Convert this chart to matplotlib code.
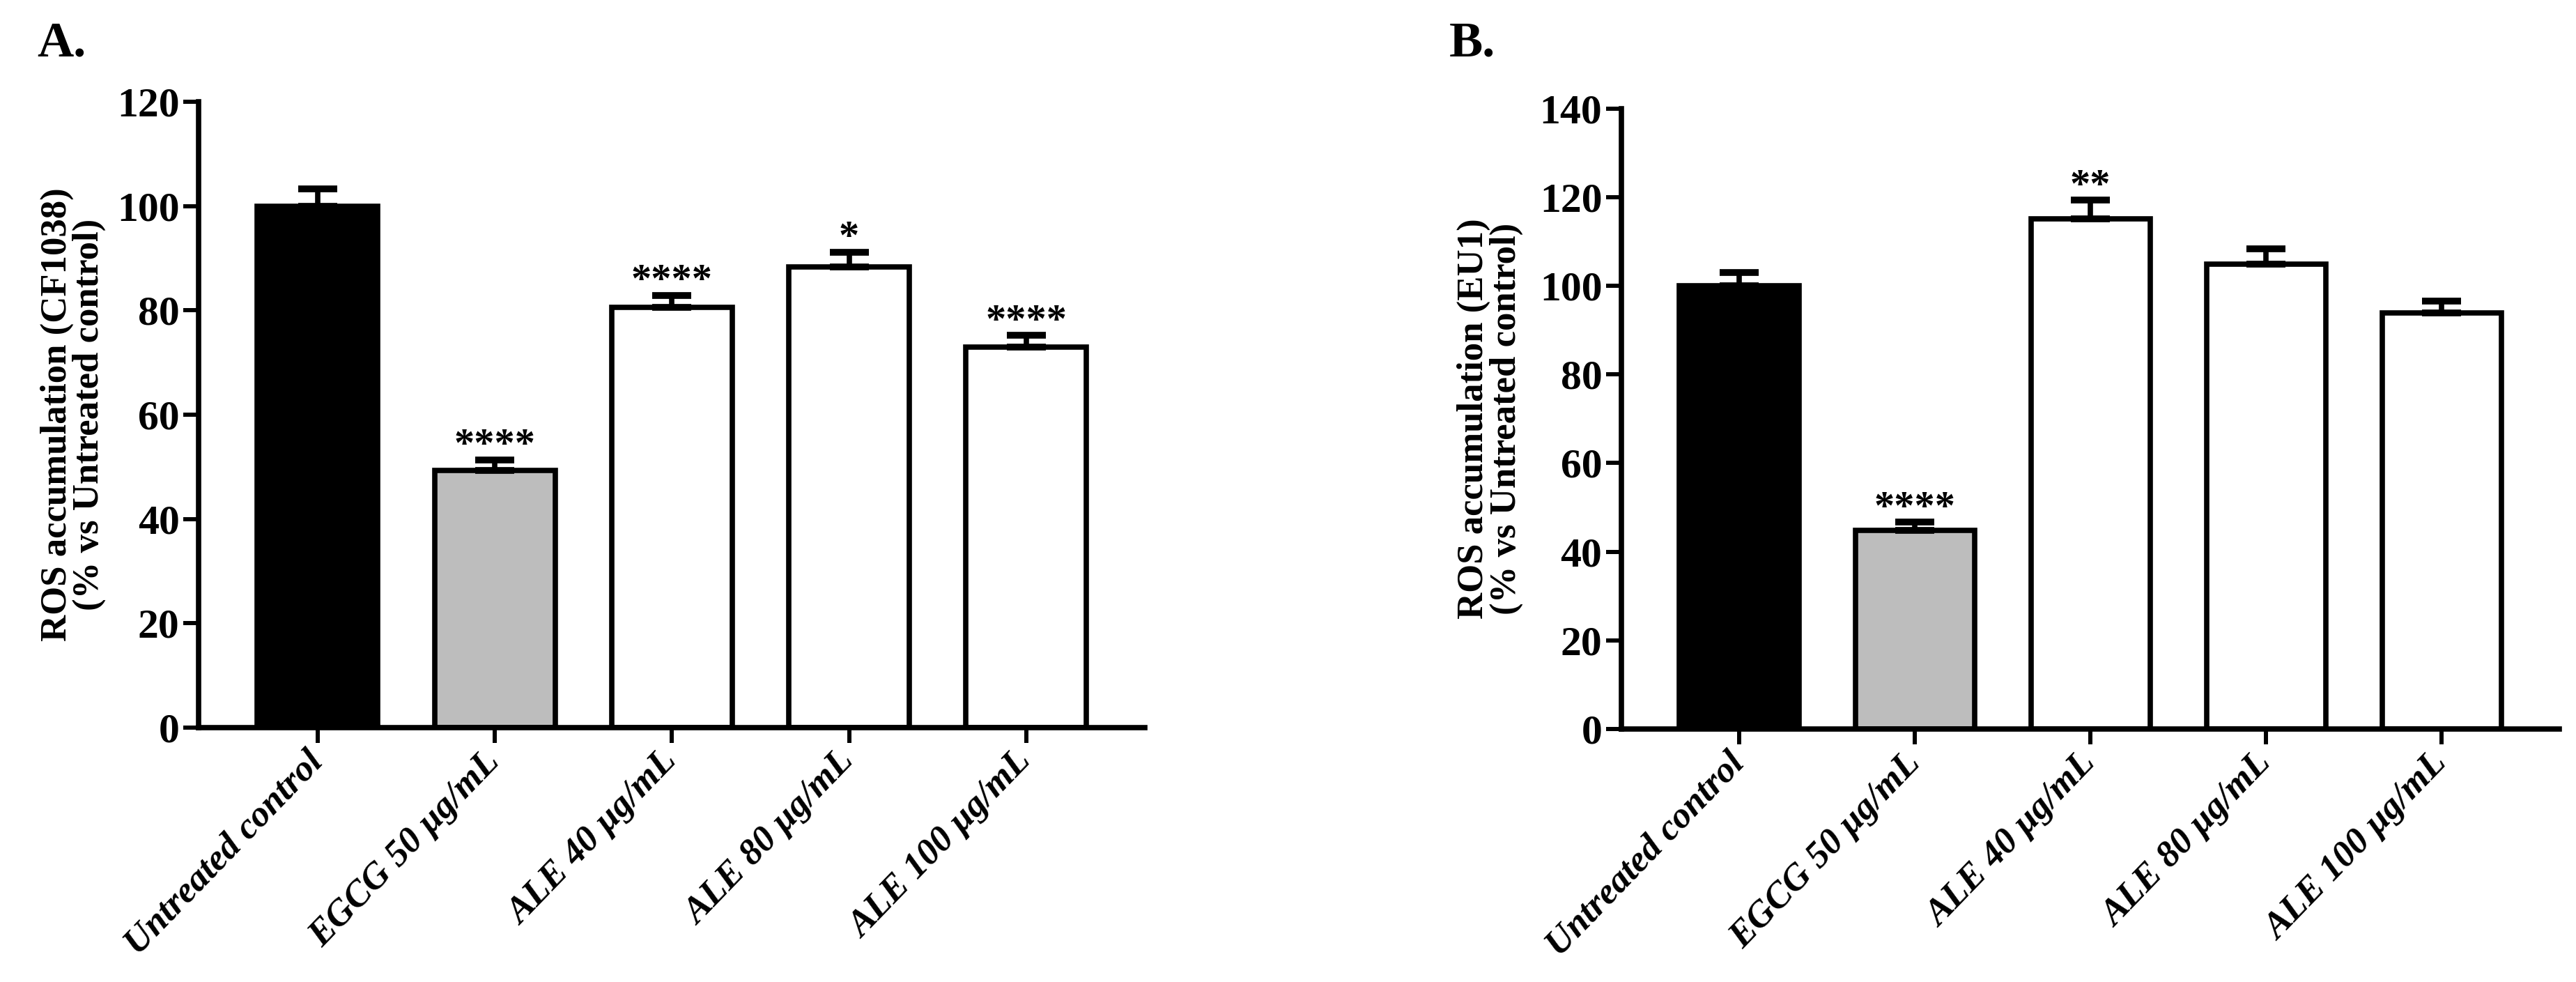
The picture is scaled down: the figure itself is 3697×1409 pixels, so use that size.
import matplotlib
matplotlib.use('Agg')
import matplotlib.pyplot as plt
import numpy as np

# data
groups = ['Untreated control', 'EGCG 50 μg/mL', 'ALE 40 μg/mL', 'ALE 80 μg/mL', 'ALE 100 μg/mL']
bar_colors = ['#000000', '#bdbdbd', '#ffffff', '#ffffff', '#ffffff']

cf1038_mean = [100.0, 49.3, 80.6, 88.4, 73.0]
cf1038_sem = [3.3, 2.0, 2.3, 2.8, 2.2]
cf1038_sig = ['', '****', '****', '*', '****']

eu1_mean = [100.0, 44.8, 115.1, 104.9, 93.8]
eu1_sem = [3.0, 1.9, 4.2, 3.4, 2.8]
eu1_sig = ['', '****', '**', '', '']

plt.rcParams['font.family'] = ['Liberation Serif', 'DejaVu Serif']
plt.rcParams['font.weight'] = 'bold'

fig = plt.figure(figsize=(36.97, 14.09), dpi=100)
axA = fig.add_axes([0.0772, 0.2592, 0.3673, 0.6371])
axB = fig.add_axes([0.6295, 0.2575, 0.3641, 0.6321])

LW = 5.5


def draw_panel(ax, means, sems, sig, ymax, ylabel, label_x):
    x = np.arange(len(groups))
    ax.bar(x, means, width=0.68, color=bar_colors, edgecolor='black', linewidth=LW, zorder=2)
    ax.errorbar(x, means, yerr=[np.zeros(len(sems)), sems], fmt='none', ecolor='black',
                elinewidth=LW, capsize=20, capthick=7, zorder=3)
    for xi, m, s, txt in zip(x, means, sems, sig):
        if txt:
            ax.annotate(txt, (xi, m + s), xytext=(0, 4), textcoords='offset points',
                        ha='center', va='baseline', fontsize=42, fontweight='bold')
    ax.set_xlim(-0.67, len(groups) - 1 + 0.67)
    ax.set_ylim(0, ymax)
    ax.set_yticks(np.arange(0, ymax + 1, 20))
    ax.set_xticks(x)
    ax.set_xticklabels(groups, rotation=46, ha='right', rotation_mode='anchor',
                       fontsize=38, fontstyle='italic', fontweight='bold')
    for lab in ax.get_xticklabels():
        lab.set_va('center')
    ax.tick_params(axis='y', labelsize=43, width=4.3, length=16, direction='out', pad=4)
    ax.tick_params(axis='x', width=4.3, length=16, direction='out', pad=14)
    for side in ['top', 'right']:
        ax.spines[side].set_visible(False)
    for side in ['left', 'bottom']:
        ax.spines[side].set_linewidth(LW)
    ax.set_ylabel(ylabel, fontsize=38, fontweight='bold', linespacing=0.95)
    ax.yaxis.set_label_coords(label_x, 0.5)


draw_panel(axA, cf1038_mean, cf1038_sem, cf1038_sig, 120,
           'ROS accumulation (CF1038)\n(% vs Untreated control)', -0.098)
draw_panel(axB, eu1_mean, eu1_sem, eu1_sig, 140,
           'ROS accumulation (EU1)\n(% vs Untreated control)', -0.105)

fig.text(0.0145, 0.955, 'A.', fontsize=52, fontweight='bold', va='center', ha='left')
fig.text(0.5625, 0.955, 'B.', fontsize=52, fontweight='bold', va='center', ha='left')

fig.savefig('out.png', dpi=100, facecolor='white')
